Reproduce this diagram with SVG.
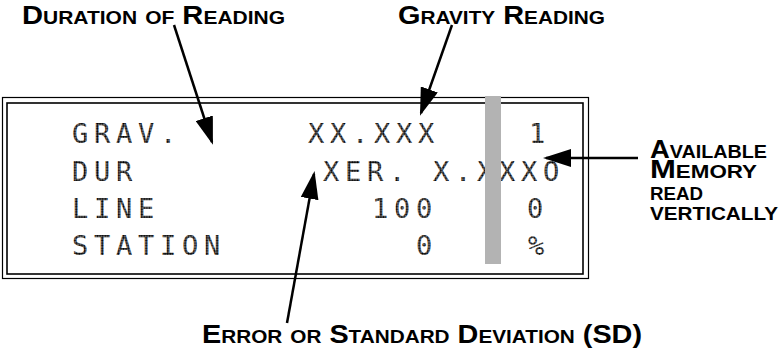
<svg xmlns="http://www.w3.org/2000/svg" width="780" height="358" viewBox="0 0 780 358">
<style>
.lbl{font-family:"Liberation Sans",Arial,sans-serif;font-weight:bold;font-size:25px;font-variant:small-caps;fill:#000}
.sm{font-family:"Liberation Sans",Arial,sans-serif;font-weight:bold;font-size:17.5px;fill:#000}
.lcd{font-family:"DejaVu Sans Mono","Liberation Mono",monospace;font-size:27px;letter-spacing:5.75px;fill:url(#dots)}
.conn{stroke:#000;stroke-width:2.5;fill:none;marker-end:url(#ah)}
</style>
<defs>
<pattern id="dots" width="2.6" height="2.6" patternUnits="userSpaceOnUse">
<rect width="2.6" height="2.6" fill="#888"/>
<circle cx="1.3" cy="1.3" r="1.05" fill="#000"/>
</pattern>
<marker id="ah" viewBox="0 0 28 18" refX="25" refY="9" markerWidth="28" markerHeight="18" markerUnits="userSpaceOnUse" orient="auto">
<path d="M0,0 L28,9 L0,18 z" fill="#000"/>
</marker>
</defs>
<rect width="780" height="358" fill="#fff"/>
<g id="display">
<rect x="2.5" y="97.5" width="586" height="181" fill="none" stroke="#000" stroke-width="1.2"/>
<rect x="7" y="103" width="576" height="171" fill="none" stroke="#000" stroke-width="1.6"/>
<text class="lcd" x="72" y="143">GRAV.</text>
<text class="lcd" x="308" y="143">XX.XXX</text>
<text class="lcd" x="529" y="143">1</text>
<text class="lcd" x="72" y="180.5">DUR</text>
<text class="lcd" x="323" y="180.5">XER. X.XXXO</text>
<text class="lcd" x="72" y="218">LINE</text>
<text class="lcd" x="372" y="218">100</text>
<text class="lcd" x="527" y="218">0</text>
<text class="lcd" x="72" y="255">STATION</text>
<text class="lcd" x="416" y="255">0</text>
<text class="lcd" x="528" y="255">%</text>
<rect id="memory-bar" x="485" y="96" width="16" height="168" fill="#b3b3b3"/>
</g>
<g id="label-duration">
<text class="lbl" x="22" y="24" textLength="263" lengthAdjust="spacingAndGlyphs">Duration of Reading</text>
</g>
<g id="label-gravity">
<text class="lbl" x="398" y="24" textLength="207" lengthAdjust="spacingAndGlyphs">Gravity Reading</text>
</g>
<g id="label-memory">
<text class="lbl"><tspan x="650" y="158" textLength="117" lengthAdjust="spacingAndGlyphs">Available</tspan><tspan x="650" y="178" textLength="107" lengthAdjust="spacingAndGlyphs">Memory</tspan></text>
<text class="sm" x="650" y="199.5" textLength="53" lengthAdjust="spacingAndGlyphs">READ</text>
<text class="sm" x="650" y="219.5" textLength="128" lengthAdjust="spacingAndGlyphs">VERTICALLY</text>
</g>
<g id="label-error">
<text class="lbl" x="202" y="343" textLength="440" lengthAdjust="spacingAndGlyphs">Error or Standard Deviation (SD)</text>
</g>
<g id="connectors">
<line class="conn" x1="174" y1="25" x2="212" y2="142"/>
<line class="conn" x1="452" y1="25" x2="421" y2="113"/>
<line class="conn" x1="287" y1="323" x2="314" y2="174"/>
<line class="conn" x1="638" y1="158" x2="546" y2="158"/>
</g>
</svg>
